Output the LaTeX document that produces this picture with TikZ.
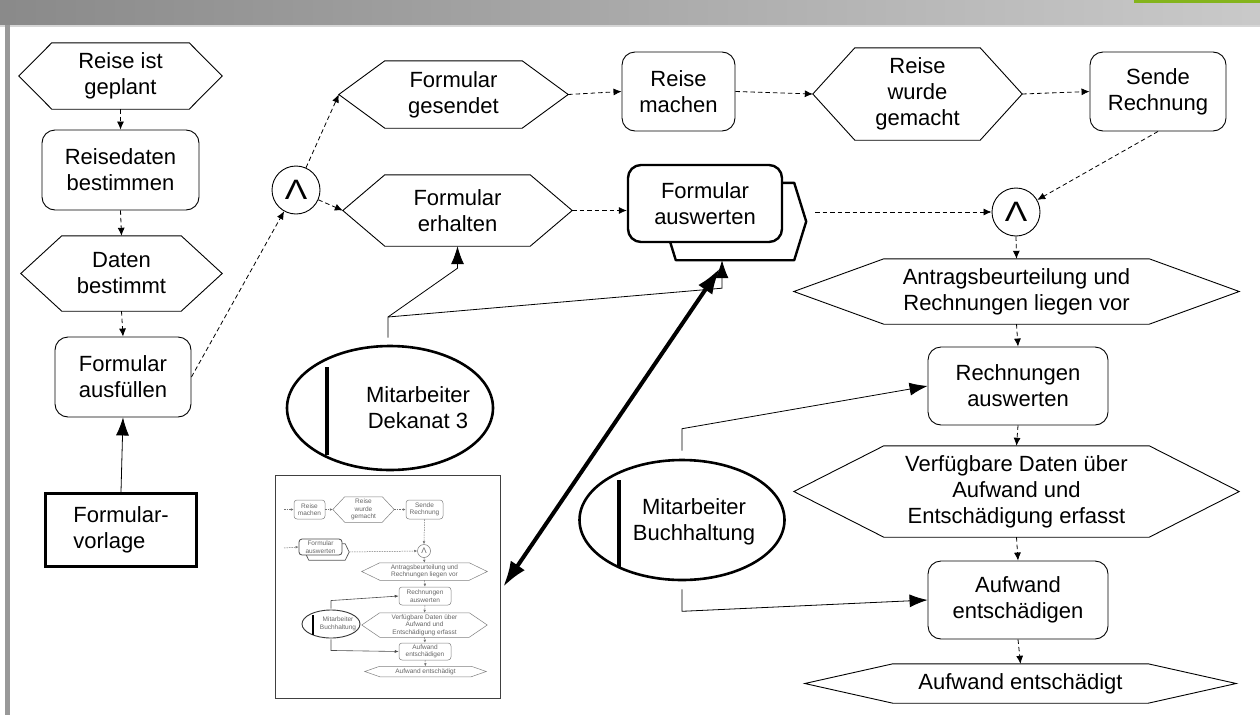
\documentclass[tikz,border=0pt]{standalone}
\usepackage{fontspec}
\usepackage{graphicx}
\setmainfont{Liberation Sans}
\usetikzlibrary{arrows.meta,shapes.geometric}
\definecolor{gbar}{HTML}{84B41C}
\newcommand\bigf{\fontsize{22}{26}\selectfont}
\newcommand\smallf{\fontsize{6.5}{7.6}\selectfont}
\newcommand\andsym{\scalebox{1.2}[1]{\fontsize{28}{28}\selectfont Λ}}
\newcommand\hexnode[8]{%
 \node[hexbox,minimum width=#5pt,minimum height=#6pt,#1,draw=none] (#2) at (#3,#4) {#8};
 \draw[hexline,#1] (#2.west) -- ([xshift=#7pt]#2.north west) -- ([xshift=-#7pt]#2.north east) -- (#2.east) -- ([xshift=-#7pt]#2.south east) -- ([xshift=#7pt]#2.south west) -- cycle;}
\tikzset{
 hexbox/.style={rectangle, draw=none, inner sep=0pt, align=center, font=\bigf},
 hexline/.style={draw=black, line width=0.9pt},
 rbox/.style={rectangle, draw=black, line width=0.9pt, rounded corners=13pt, inner sep=0pt, align=center, font=\bigf},
 dcon/.style={draw=black, line width=0.8pt, dash pattern=on 4.5pt off 3pt, -{Latex[length=8pt,width=7pt]}},
 rcon/.style={draw=black, line width=0.8pt, -{Latex[length=18pt,width=13pt]}},
 bigarrow/.style={draw=black, line width=4pt, {Latex[length=26pt,width=17pt]}-{Latex[length=26pt,width=17pt]}},
 andgate/.style={circle, draw=black, line width=0.9pt, minimum size=48pt, inner sep=0pt},
 orgunit/.style={ellipse, draw=black, line width=2.6pt, inner sep=0pt},
 txt/.style={align=center, font=\bigf, inner sep=0pt},
 ins/.style={draw=black!50, text=black!60, line width=0.5pt, font=\smallf},
 irbox/.style={rectangle, draw=black!50, line width=0.5pt, rounded corners=3pt, inner sep=0pt, align=center, font=\smallf, text=black!60},
 idcon/.style={draw=black!55, line width=0.5pt, dash pattern=on 1.5pt off 1pt, -{Latex[length=3pt,width=2.6pt]}},
 ircon/.style={draw=black!70, line width=0.6pt, -{Latex[length=4pt,width=3pt]}},
}
\begin{document}
\begin{tikzpicture}[x=1pt,y=-1pt]
\useasboundingbox (0,0) rectangle (1260,715);
\fill[white] (0,0) rectangle (1260,715);
% frame bars
\shade[left color=black!46, right color=black!21] (0,0) rectangle (1260,25);
\fill[black!16] (0,25) rectangle (1260,26.5);
\fill[gbar] (1134,0) rectangle (1260,3);
\fill[black!40] (5,25) rectangle (10,715);

% left column
\hexnode{}{h1}{120.5}{76}{203}{66}{33}{Reise ist\\geplant}
\node[rbox, minimum width=157pt, minimum height=80pt] (r2) at (120.5,170) {Reisedaten\\bestimmen};
\hexnode{}{h3}{121.5}{273.5}{201}{75}{41}{Daten\\bestimmt}
\node[rbox, minimum width=136pt, minimum height=80pt] (r4) at (123,377) {Formular\\ausfüllen};
\node[draw=black, line width=3.3pt, minimum width=151pt, minimum height=73pt, inner sep=0pt, align=left, font=\bigf] (fv) at (121,530) {Formular-\\vorlage};

% top area
\node[andgate] (and1) at (296,190) {\andsym};
\hexnode{}{fg}{453.5}{94.5}{229}{67}{46}{Formular\\gesendet}
\hexnode{}{fe}{457.5}{210.5}{229}{71}{42}{Formular\\erhalten}
\node[rbox, minimum width=113pt, minimum height=79pt] (rm) at (678.5,91.5) {Reise\\machen};
\hexnode{}{rw}{917.5}{94}{209}{92}{42}{Reise\\wurde\\gemacht}
\node[rbox, minimum width=136pt, minimum height=79pt] (sr) at (1158,91.5) {Sende\\Rechnung};

\node[rectangle, inner sep=0pt, minimum width=142pt, minimum height=77pt] (fab) at (735,221.5) {};
\draw[line width=2.4pt, fill=white, line join=round] (fab.west) -- ([xshift=12pt]fab.north west) -- ([xshift=-12pt]fab.north east) -- (fab.east) -- ([xshift=-12pt]fab.south east) -- ([xshift=12pt]fab.south west) -- cycle;
\node[rbox, line width=2.4pt, fill=white, minimum width=154pt, minimum height=77pt] (fa) at (705,203.5) {Formular\\auswerten};

\node[andgate] (and2) at (1016,212) {\andsym};

% right column
\hexnode{}{ar}{1016.5}{291.5}{445}{65}{90}{Antragsbeurteilung und\\Rechnungen liegen vor}
\node[rbox, minimum width=180pt, minimum height=78pt] (ra) at (1018,386) {Rechnungen\\auswerten};
\hexnode{}{vd}{1016.5}{491.5}{445}{91}{90}{Verfügbare Daten über\\Aufwand und\\Entschädigung erfasst}
\node[rbox, minimum width=180pt, minimum height=78pt] (aen) at (1018,600) {Aufwand\\entschädigen};
\hexnode{}{ae}{1020.5}{683.5}{431}{39}{88}{Aufwand entschädigt}

% org units
\node[orgunit, minimum width=206pt, minimum height=124pt] (dk) at (390,408) {};
\draw[line width=4pt] (327,367) -- (327,455);
\node[txt] (dkt) at (418,408) {Mitarbeiter\\Dekanat 3};
\node[orgunit, minimum width=205pt, minimum height=120pt] (bh) at (682,520) {};
\draw[line width=4pt] (619,480) -- (619,567);
\node[txt] (bht) at (694,522) {Mitarbeiter\\Buchhaltung};

% inset thumbnail
\node[draw=black!75, line width=1.2pt, minimum width=225pt, minimum height=223pt, inner sep=0pt] (inset) at (388,587) {};
\node[irbox, minimum width=31pt, minimum height=19pt] (im) at (309.5,509.5) {Reise\\machen};
\hexnode{ins}{iw}{363.5}{509.5}{61}{25}{12}{Reise\\wurde\\gemacht}
\node[irbox, minimum width=37pt, minimum height=19pt] (is) at (424.5,509.5) {Sende\\Rechnung};
\node[rectangle, inner sep=0pt, minimum width=44pt, minimum height=16pt] (ifab) at (327,552) {};
\draw[draw=black!65, line width=0.7pt, fill=white] (ifab.west) -- ([xshift=4pt]ifab.north west) -- ([xshift=-4pt]ifab.north east) -- (ifab.east) -- ([xshift=-4pt]ifab.south east) -- ([xshift=4pt]ifab.south west) -- cycle;
\node[irbox, draw=black!70, line width=0.8pt, fill=white, minimum width=43pt, minimum height=16pt] (ifa) at (320.5,547) {Formular\\auswerten};
\node[circle, draw=black!55, line width=0.5pt, minimum size=13pt, inner sep=0pt, text=black!60] (iand) at (424,551) {\fontsize{8}{8}\selectfont Λ};
\hexnode{ins}{iar}{424.5}{571.5}{125}{17}{18}{Antragsbeurteilung und\\Rechnungen liegen vor}
\node[irbox, minimum width=52pt, minimum height=18pt] (ira) at (425,596) {Rechnungen\\auswerten};
\hexnode{ins}{ivd}{424.5}{625}{125}{24}{18}{Verfügbare Daten über\\Aufwand und\\Entschädigung erfasst}
\node[irbox, minimum width=52pt, minimum height=17pt] (iaen) at (425,651.5) {Aufwand\\entschädigen};
\hexnode{ins}{iae}{425.5}{671.5}{121}{10}{15}{Aufwand entschädigt}
\node[ellipse, draw=black!80, line width=0.9pt, minimum width=58pt, minimum height=28pt, inner sep=0pt] (ibh) at (331,624) {};
\draw[line width=1.2pt] (313,615) -- (313,635);
\node[align=center, font=\smallf, text=black!60, inner sep=0pt] (ibht) at (338,624) {Mitarbeiter\\Buchhaltung};
\coordinate (ist1) at (284,509.5);
\coordinate (ist2) at (284,548);
\draw[idcon] (ist1) -- (im.west);
\draw[idcon] (im.east) -- (iw.west);
\draw[idcon] (iw.east) -- (is.west);
\draw[idcon] (is.south) -- (iand.north);
\draw[idcon] (ist2) -- (ifa.west);
\draw[idcon] (ifab.east) -- (iand.west);
\draw[idcon] (iand.south) -- (iar.north);
\draw[idcon] (iar.south) -- (ira.north);
\draw[idcon] (ira.south) -- (ivd.north);
\draw[idcon] (ivd.south) -- (iaen.north);
\draw[idcon] (iaen.south) -- (iae.north);
\draw[ircon] ([yshift=1pt]ibh.north) -- ([yshift=9pt]ibh.north) -- (ira.west);
\draw[ircon] ([yshift=-1pt]ibh.south) -- ([yshift=-12pt]ibh.south) -- (iaen.west);

% dashed control flow
\draw[dcon] (h1.south) -- (r2.north);
\draw[dcon] (r2.south) -- (h3.north);
\draw[dcon] (h3.south) -- (r4.north);
\draw[dcon] (r4.east) -- (and1);
\draw[dcon] (and1) -- (fg.west);
\draw[dcon] (and1) -- (fe.west);
\draw[dcon] (fg.east) -- (rm.west);
\draw[dcon] (rm.east) -- (rw.west);
\draw[dcon] (rw.east) -- (sr.west);
\draw[dcon] (sr.south) -- (and2);
\draw[dcon] (fe.east) -- (fe.east -| fa.west);
\path (fab.east |- and2) coordinate (fabx);
\draw[dcon] ([xshift=9pt]fabx) -- (and2.west);
\draw[dcon] (and2.south) -- (ar.north);
\draw[dcon] (ar.south) -- (ra.north);
\draw[dcon] (ra.south) -- (vd.north);
\draw[dcon] (vd.south) -- (aen.north);
\draw[dcon] (aen.south) -- (ae.north);

% resource connectors
\draw[rcon] (fv.north) -- (r4.south);
\coordinate (dkj) at (388,317);
\draw[rcon] ([xshift=-2pt,yshift=7pt]dk.north) -- (dkj) -- ([yshift=-22pt]fe.south) -- (fe.south);
\draw[rcon] (dkj) -- ([xshift=-13pt,yshift=-28pt]fab.south) -- ([xshift=-13pt]fab.south);
\draw[rcon] ([yshift=8pt]bh.north) -- ([yshift=30pt]bh.north) -- (ra.west);
\draw[rcon] ([yshift=-8pt]bh.south) -- ([yshift=-30pt]bh.south) -- (aen.west);
\draw[bigarrow] ([xshift=2pt]inset.east) -- ([xshift=-15pt,yshift=-8pt]fab.south);
\end{tikzpicture}
\end{document}
